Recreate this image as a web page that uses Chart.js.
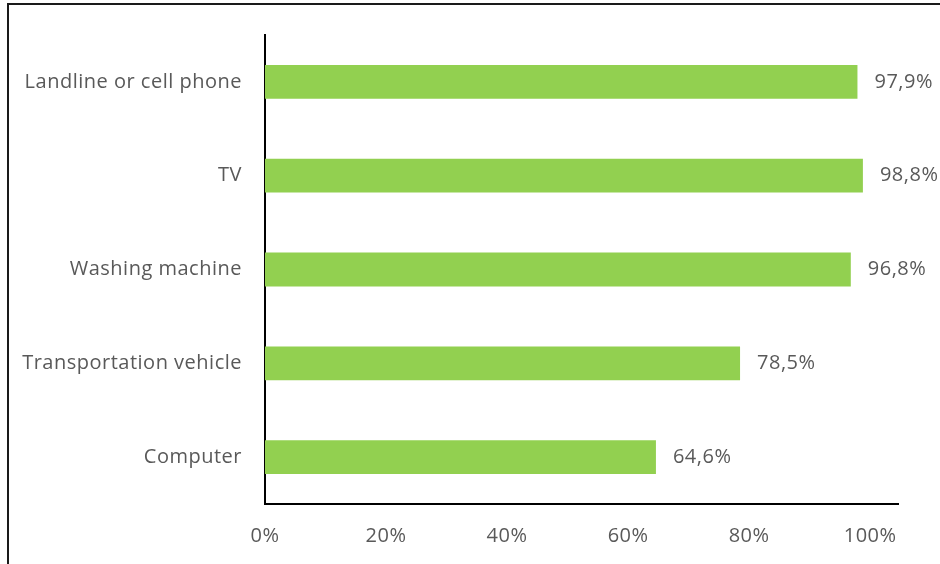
<!DOCTYPE html>
<html>
<head>
<meta charset="utf-8">
<script src="https://cdn.jsdelivr.net/npm/chart.js@4/dist/chart.umd.min.js"></script>
<style>
  html, body { margin: 0; padding: 0; background: #fff; }
  #wrap { position: relative; width: 940px; height: 564px; overflow: hidden; }
  #frame { position: absolute; left: 7px; top: 3px; width: 1000px; height: 1000px;
           border-left: 2px solid #1a1a1a; border-top: 2px solid #1a1a1a; }
  #chart { position: absolute; left: 0; top: 0; }
</style>
</head>
<body>
<div id="wrap">
  <div id="frame"></div>
  <canvas id="chart" width="940" height="564"></canvas>
</div>
<script>
/*************** Data ****************/

var categories = ["Landline or cell phone", "TV", "Washing machine", "Transportation vehicle", "Computer"];
var shares = [97.9, 98.8, 96.8, 78.5, 64.6];
var tickValues = [0, 20, 40, 60, 80, 100];

var textColor = "#595959";
var fontFamily = "'Open Sans', Lato, sans-serif";
var fontSize = 20;

/*************** Slightly wider text spacing ****************/

var spacing = {
    id: 'spacing',
    beforeDraw: function (chart) {
        chart.ctx.letterSpacing = '0.5px';
    }
};

/*************** Value labels next to each bar ****************/

var valueLabels = {
    id: 'valueLabels',
    afterDatasetsDraw: function (chart) {
        var ctx = chart.ctx;
        var meta = chart.getDatasetMeta(0);
        ctx.save();
        ctx.letterSpacing = '0.5px';
        ctx.fillStyle = textColor;
        ctx.font = fontSize + "px " + fontFamily;
        ctx.textBaseline = 'middle';
        ctx.textAlign = 'left';
        meta.data.forEach(function (bar, i) {
            var txt = shares[i].toFixed(1).replace('.', ',') + '%';
            ctx.fillText(txt, bar.x + 17, bar.y);
        });
        ctx.restore();
    }
};

/*************** Creating chart ****************/

var chart = new Chart(document.getElementById("chart"), {
    type: 'bar',
    data: {
        labels: categories,
        datasets: [{
            data: shares,
            backgroundColor: "#92D050",
            borderWidth: 0,
            barPercentage: 0.36,
            categoryPercentage: 1
        }]
    },
    plugins: [spacing, valueLabels],
    options: {
        indexAxis: 'y',
        responsive: false,
        animation: false,
        layout: { padding: { left: 0, top: 32, right: 42, bottom: 0 } },
        plugins: {
            legend: { display: false },
            tooltip: { enabled: false }
        },
        scales: {
            x: {
                min: 0,
                max: 104.6,
                afterBuildTicks: function (scale) {
                    scale.ticks = tickValues.map(function (v) { return { value: v }; });
                },
                afterFit: function (scale) { scale.height = 60; },
                grid: { display: false, drawTicks: false },
                border: { display: true, color: "#000", width: 2 },
                ticks: {
                    color: textColor,
                    padding: 20,
                    font: { family: fontFamily, size: fontSize },
                    callback: function (v) { return v + '%'; }
                }
            },
            y: {
                afterFit: function (scale) { scale.width = 265; },
                grid: { display: false, drawTicks: false },
                border: { display: true, color: "#000", width: 2 },
                ticks: {
                    color: textColor,
                    padding: 23,
                    font: { family: fontFamily, size: fontSize }
                }
            }
        }
    }
});
</script>
</body>
</html>
